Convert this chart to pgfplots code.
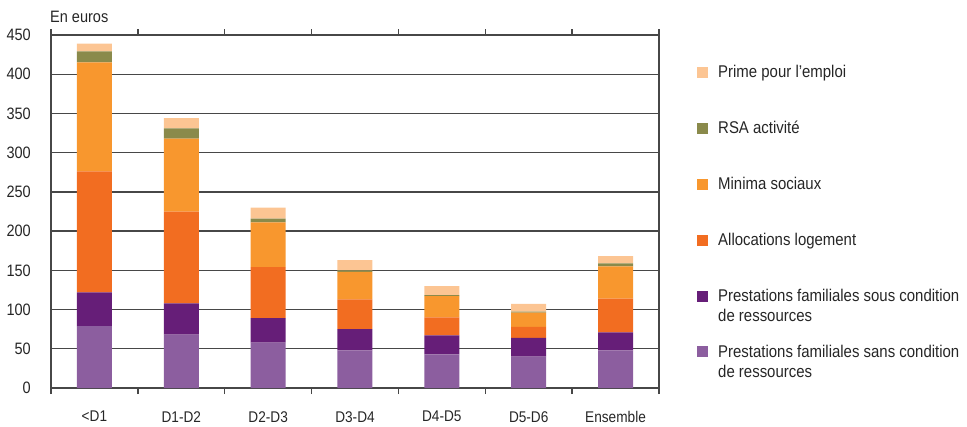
\documentclass[border=0pt]{standalone}
\usepackage{pgfplots}
\pgfplotsset{compat=1.18}
\usepackage{fontspec}
\setmainfont{Liberation Sans}[FakeStretch=0.88]

\definecolor{ppe}{HTML}{FCC593}
\definecolor{rsa}{HTML}{8A8A4B}
\definecolor{minima}{HTML}{F8972E}
\definecolor{alloc}{HTML}{F26D21}
\definecolor{pfsous}{HTML}{661E78}
\definecolor{pfsans}{HTML}{8C5E9F}
\definecolor{gridc}{HTML}{474747}

\begin{document}
\begin{tikzpicture}
\path[use as bounding box] (-51pt,-38pt) rectangle (916pt,388pt);
\begin{axis}[
  at={(0pt,0pt)}, anchor=south west,
  scale only axis, width=608pt, height=353pt,
  ybar stacked, bar width=35pt,
  xmin=-0.5, xmax=6.5, ymin=0, ymax=450,
  xtick={-0.5,0.5,...,6.5},
  x tick label as interval,
  xticklabels={<D1,D1-D2,D2-D3,D3-D4,D4-D5,D5-D6,Ensemble},
  ytick={0,50,...,450},
  ymajorgrids, grid style={gridc, line width=1.3pt},
  axis line style={gridc, line width=1.3pt},
  tick align=outside,
  major tick length=6pt,
  xtick style={gridc, line width=1.3pt},
  ytick style={draw=none},
  /pgf/number format/assume math mode=true,
  xticklabel style={font=\fontsize{15.5}{18}\selectfont, text=black!85, inner sep=0pt, yshift=-17pt},
  yticklabel style={font=\fontsize{16.5}{19}\selectfont, text=black!85, inner sep=0pt, xshift=-14pt},
  reverse legend,
  legend cell align=left,
  legend image code/.code={\fill[#1] (0pt,0.5pt) rectangle (11pt,11.5pt);},
  legend style={draw=none, fill=none, inner sep=0pt,
    at={(rel axis cs:0,1)}, anchor=north west, xshift=646pt, yshift=-31.5pt,
    row sep=43.7pt, column sep=10pt,
    font=\fontsize{17}{20}\selectfont, text=black!85,
    nodes={inner sep=0pt}},
  clip=false,
]
\addplot[fill=pfsans, draw=none] coordinates {(0,79) (1,68) (2,58) (3,48) (4,43) (5,40) (6,48)};
\addplot[fill=pfsous, draw=none] coordinates {(0,43) (1,40) (2,31) (3,27) (4,24) (5,24) (6,23)};
\addplot[fill=alloc, draw=none] coordinates {(0,154) (1,117) (2,65) (3,38) (4,23) (5,14) (6,43)};
\addplot[fill=minima, draw=none] coordinates {(0,139) (1,93) (2,57) (3,35) (4,27) (5,18) (6,41)};
\addplot[fill=rsa, draw=none] coordinates {(0,14) (1,13) (2,5) (3,2) (4,1.3) (5,1.3) (6,4)};
\addplot[fill=ppe, draw=none] coordinates {(0,10) (1,13) (2,14) (3,13) (4,11.5) (5,10) (6,9)};
\legend{
  \smash{\begin{tabular}[t]{@{}l@{}}Prestations familiales sans condition\\de ressources\end{tabular}},
  \smash{\begin{tabular}[t]{@{}l@{}}Prestations familiales sous condition\\de ressources\end{tabular}},
  \smash{Allocations logement},
  \smash{Minima sociaux},
  \smash{RSA activité},
  \smash{Prime pour l'emploi}}
\node[anchor=base west, inner sep=0pt, font=\fontsize{16.5}{19}\selectfont, text=black!85]
  at (rel axis cs:0,1) [xshift=-1pt, yshift=12.3pt] {En euros};
\end{axis}
\end{tikzpicture}
\end{document}
